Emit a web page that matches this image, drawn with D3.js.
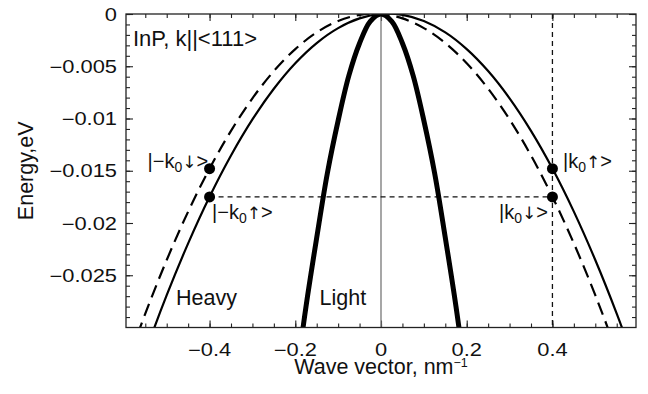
<!DOCTYPE html>
<html>

<head>
    <style>
        body {
            margin: 0;
            background: white;
        }
        text {
            font-family: "Liberation Sans", Arial, sans-serif;
            fill: #111;
        }
        .frame {
            fill: none;
            stroke: #222;
            stroke-width: 1.3;
        }
        .tick line {
            stroke: #222;
            stroke-width: 1.1;
        }
    </style>
</head>

<body>
    <svg id="container" height="394" width="648">
        <g id="body"></g>
    </svg>
</body>
<script src="https://d3js.org/d3.v7.min.js"></script>

<script>
    // wave vector grid (nm^-1) for the heavy hole branches
    let kHeavy = [-0.6, -0.55, -0.5, -0.45, -0.4, -0.35, -0.3, -0.25, -0.2, -0.15, -0.1, -0.05, 0,
        0.05, 0.1, 0.15, 0.2, 0.25, 0.3, 0.35, 0.4, 0.45, 0.5, 0.55, 0.6];
    // heavy hole, spin up (solid) and spin down (dashed), eV
    let heavyUp = [-0.03835, -0.03238, -0.02691, -0.02195, -0.01749, -0.01354, -0.01009, -0.00715, -0.00471,
        -0.00278, -0.00135, -0.00042, 0, -0.00008, -0.00067, -0.00176, -0.00336, -0.00546, -0.00807, -0.01118,
        -0.01479, -0.01891, -0.02354, -0.02867, -0.03430];
    let heavyDown = [-0.03430, -0.02867, -0.02354, -0.01891, -0.01479, -0.01118, -0.00807, -0.00546, -0.00336,
        -0.00176, -0.00067, -0.00008, 0, -0.00042, -0.00135, -0.00278, -0.00471, -0.00715, -0.01009, -0.01354,
        -0.01749, -0.02195, -0.02691, -0.03238, -0.03835];
    // light hole
    let kLight = [-0.2, -0.175, -0.15, -0.125, -0.1, -0.075, -0.05, -0.025, 0,
        0.025, 0.05, 0.075, 0.1, 0.125, 0.15, 0.175, 0.2];
    let light = [-0.0356, -0.0280, -0.0214, -0.0152, -0.0102, -0.0059, -0.0028, -0.0007, 0,
        -0.0007, -0.0028, -0.0059, -0.0102, -0.0152, -0.0214, -0.0280, -0.0356];
    // marked states
    let stateK = [-0.4, -0.4, 0.4, 0.4];
    let stateE = [-0.0148, -0.0175, -0.0148, -0.0175];
    let stateNames = [["|\u2212k", "0", "\u2193", ">"], ["|\u2212k", "0", "\u2191", ">"], ["|k", "0", "\u2191", ">"], ["|k", "0", "\u2193", ">"]];
    let guideK = 0.4;
    let guideE = -0.0175;
    // ticks
    let xMajor = [-0.4, -0.2, 0, 0.2, 0.4];
    let xLabels = ["\u22120.4", "\u22120.2", "0", "0.2", "0.4"];
    let yMajor = [0, -0.005, -0.01, -0.015, -0.02, -0.025];
    let yLabels = ["0", "\u22120.005", "\u22120.01", "\u22120.015", "\u22120.02", "\u22120.025"];

    let pLeft = 126, pRight = 636, pTop = 14, pBottom = 327.5;
    let body = d3.select("#body");

    let x = d3.scaleLinear().domain([-0.595, 0.595]).range([pLeft, pRight]);
    let y = d3.scaleLinear().domain([-0.03, 0]).range([pBottom, pTop]);

    let xMinor = d3.range(-55, 60, 5).map((d) => d / 100);
    let yMinor = d3.range(-29, 1, 1).map((d) => d / 1000);

    body.append("clipPath").attr("id", "plot")
        .append("rect")
        .attr("x", pLeft).attr("y", pTop)
        .attr("width", pRight - pLeft).attr("height", pBottom - pTop);

    // inward ticks on all four sides
    function ticks(axis, pos, values, size) {
        let g = body.append("g")
            .attr("transform", pos)
            .call(axis.tickValues(values).tickSize(-size).tickSizeOuter(0).tickFormat(""));
        g.select(".domain").remove();
        g.selectAll("text").remove();
    }
    ticks(d3.axisLeft(y), `translate(${pLeft},0)`, yMinor, 4);
    ticks(d3.axisLeft(y), `translate(${pLeft},0)`, yMajor, 7);
    ticks(d3.axisRight(y), `translate(${pRight},0)`, yMinor, 4);
    ticks(d3.axisRight(y), `translate(${pRight},0)`, yMajor, 7);
    ticks(d3.axisBottom(x), `translate(0,${pBottom})`, xMinor, 4);
    ticks(d3.axisBottom(x), `translate(0,${pBottom})`, xMajor, 7);
    ticks(d3.axisTop(x), `translate(0,${pTop})`, xMinor, 4);
    ticks(d3.axisTop(x), `translate(0,${pTop})`, xMajor, 7);

    // tick labels (slightly wide glyphs, as in the original)
    body.append("g").selectAll("text")
        .data(yMajor)
        .enter()
        .append("text")
            .attr("transform", (d) => `translate(${pLeft - 9},${y(d) + 6.5}) scale(1.25,1)`)
            .attr("text-anchor", "end")
            .style("font-size", "17.5px")
            .text((d, i) => yLabels[i]);
    body.append("g").selectAll("text")
        .data(xMajor)
        .enter()
        .append("text")
            .attr("transform", (d) => `translate(${x(d)},${pBottom + 28.5}) scale(1.25,1)`)
            .attr("text-anchor", "middle")
            .style("font-size", "17.5px")
            .text((d, i) => xLabels[i]);

    let plot = body.append("g").attr("clip-path", "url(#plot)");

    // k = 0 line
    plot.append("line")
        .attr("x1", x(0)).attr("x2", x(0))
        .attr("y1", pTop).attr("y2", pBottom)
        .attr("stroke", "#777")
        .attr("stroke-width", 1.3);

    // dashed guides
    plot.append("line")
        .attr("x1", x(guideK)).attr("x2", x(guideK))
        .attr("y1", pTop).attr("y2", pBottom)
        .attr("stroke", "#111").attr("stroke-width", 1.3)
        .attr("stroke-dasharray", "5,4");
    plot.append("line")
        .attr("x1", x(-guideK)).attr("x2", x(guideK))
        .attr("y1", y(guideE)).attr("y2", y(guideE))
        .attr("stroke", "#111").attr("stroke-width", 1.3)
        .attr("stroke-dasharray", "5,4");

    let line = d3.line()
        .x((d) => x(d[0]))
        .y((d) => y(d[1]))
        .curve(d3.curveCatmullRom);

    plot.append("path")
        .attr("d", line(d3.zip(kHeavy, heavyDown)))
        .attr("fill", "none").attr("stroke", "black")
        .attr("stroke-width", 2.2)
        .attr("stroke-dasharray", "13,7");
    plot.append("path")
        .attr("d", line(d3.zip(kHeavy, heavyUp)))
        .attr("fill", "none").attr("stroke", "black")
        .attr("stroke-width", 2.2);
    plot.append("path")
        .attr("d", line(d3.zip(kLight, light)))
        .attr("fill", "none").attr("stroke", "black")
        .attr("stroke-width", 5);

    plot.selectAll("circle")
        .data(d3.zip(stateK, stateE))
        .enter()
        .append("circle")
            .attr("cx", (d) => x(d[0]))
            .attr("cy", (d) => y(d[1]))
            .attr("r", 5.5)
            .attr("fill", "black");

    body.append("rect")
        .attr("class", "frame")
        .attr("x", pLeft).attr("y", pTop)
        .attr("width", pRight - pLeft).attr("height", pBottom - pTop);

    // state labels
    let namePos = [[147.5, 168], [212, 219], [563, 168], [499, 219]];
    stateNames.forEach((n, i) => {
        let t = body.append("text")
            .attr("x", namePos[i][0]).attr("y", namePos[i][1])
            .style("font-size", "20px");
        t.append("tspan").text(n[0]);
        t.append("tspan").attr("dy", 4).style("font-size", "14px").text(n[1]);
        t.append("tspan").attr("dy", -4)
            .style("font-family", "'DejaVu Sans'").style("font-size", "17px").text(n[2]);
        t.append("tspan").text(n[3]);
    });

    body.append("text")
        .attr("x", 133).attr("y", 45.5)
        .style("font-size", "22px")
        .text("InP, k||<111>");
    body.append("text")
        .attr("x", 176).attr("y", 305)
        .style("font-size", "21.5px")
        .text("Heavy");
    body.append("text")
        .attr("x", 319.5).attr("y", 305)
        .style("font-size", "21.5px")
        .text("Light");

    // axis titles
    let xt = body.append("text")
        .attr("x", (pLeft + pRight) / 2).attr("y", 373.5)
        .attr("text-anchor", "middle")
        .style("font-size", "21.5px");
    xt.append("tspan").text("Wave vector, nm");
    xt.append("tspan").attr("dy", -7).style("font-size", "12.5px").text("\u22121");

    body.append("text")
        .attr("transform", `translate(33,${(pTop + pBottom) / 2}) rotate(-90)`)
        .attr("text-anchor", "middle")
        .style("font-size", "21.5px")
        .text("Energy,eV");
</script>

</html>
